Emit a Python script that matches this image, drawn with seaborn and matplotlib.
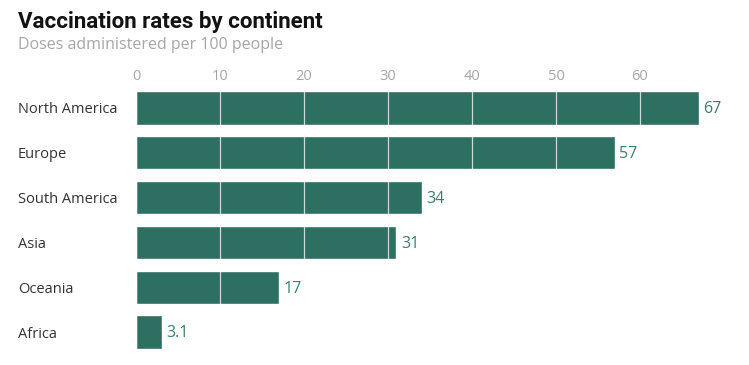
import matplotlib
matplotlib.use("Agg")
import matplotlib.pyplot as plt
import matplotlib.transforms as mtransforms
import seaborn as sns
import pandas as pd

continents = ["North America", "Europe", "South America", "Asia", "Oceania", "Africa"]
doses = [67, 57, 34, 31, 17, 3.1]
value_labels = ["67", "57", "34", "31", "17", "3.1"]
ticks = [0, 10, 20, 30, 40, 50, 60]

sns.set_theme(style="white")
plt.rcParams["font.family"] = ["Open Sans", "DejaVu Sans"]

df = pd.DataFrame({"continent": continents, "doses": doses})

fig = plt.figure(figsize=(7.49, 3.65), dpi=100)
W, H = 749, 365
x0 = 136
pxu = 8.4
xmax = 70
ax = fig.add_axes([x0 / W, 1 - 354.5 / H, (pxu * xmax) / W, (354.5 - 85.5) / H])

bar_color = "#2d7062"
sns.barplot(data=df, x="doses", y="continent", color=bar_color, width=0.74,
            saturation=1, ax=ax, orient="h", zorder=1)
ax.set_xlim(0, xmax)
ax.set_ylim(5.5, -0.5)
ax.set_xlabel("")
ax.set_ylabel("")
for s in ax.spines.values():
    s.set_visible(False)

ax.set_xticks(ticks)
ax.xaxis.tick_top()
ax.tick_params(axis="x", length=0, pad=1, labelsize=10.5, labelcolor="#a6a6a6")
ax.tick_params(axis="y", length=0, pad=0, labelsize=10.5, labelcolor="#333333")
for lab in ax.get_yticklabels():
    lab.set_horizontalalignment("left")
    lab.set_transform(mtransforms.blended_transform_factory(fig.transFigure, ax.transData))
    lab.set_x(18 / W)

for t in ticks:
    ax.axvline(t, color="#ffffff", lw=0.9, alpha=0.75, zorder=3)

for i, (v, lab) in enumerate(zip(doses, value_labels)):
    ax.text(v + 0.55, i + 0.03, lab, va="center", ha="left", fontsize=11.5, color="#3c7d6e")

fig.text(18 / W, 1 - 22 / H, "Vaccination rates by continent", fontsize=16,
         fontweight="bold", color="#121212", va="center", ha="left",
         family=["Roboto", "DejaVu Sans"])
fig.text(18 / W, 1 - 45 / H, "Doses administered per 100 people", fontsize=11.5,
         color="#a6a6a6", va="center", ha="left")

fig.savefig("out.png", dpi=100, facecolor="white")
